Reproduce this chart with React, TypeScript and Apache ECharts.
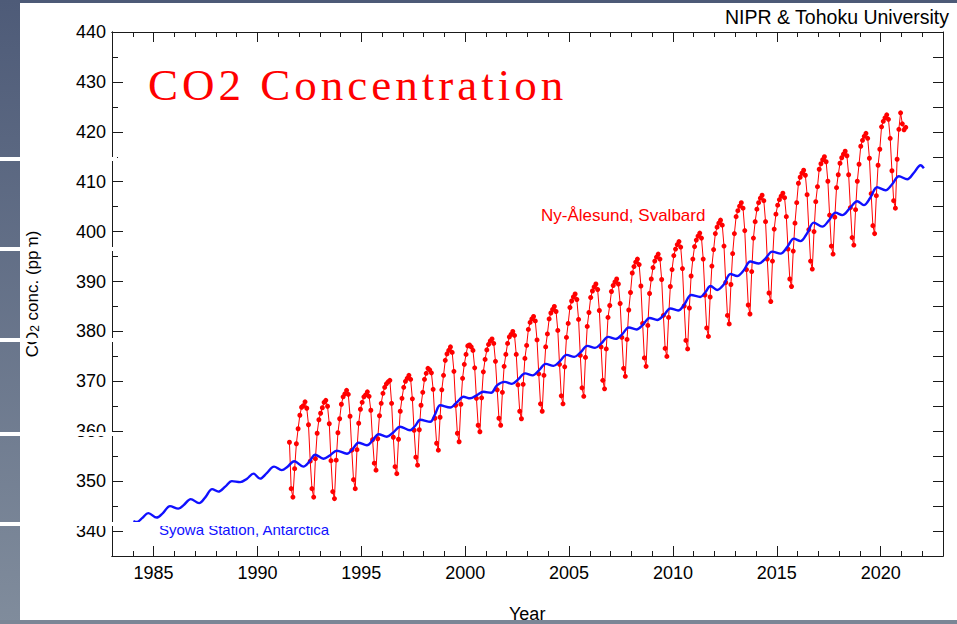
import React, { useEffect, useRef } from 'react';
import * as echarts from 'echarts';

// ---- tick labels ----
const xMajorTicks = [1985, 1990, 1995, 2000, 2005, 2010, 2015, 2020];
const yMajorTicks = [340, 350, 360, 370, 380, 390, 400, 410, 420, 430, 440];

// ---- Syowa Station, Antarctica (year, ppm) ----
const syowa: [number, number][] = [
  [1984.03, 342.0], [1984.2, 341.8], [1984.45, 342.6], [1984.75, 343.6], [1985.15, 342.7], [1985.45, 343.6],
  [1985.79, 345.0], [1986.19, 344.5], [1986.45, 345.2], [1986.79, 346.4], [1987.19, 345.6], [1987.5, 346.8],
  [1987.82, 348.4], [1988.12, 347.9], [1988.45, 348.9], [1988.77, 350.0], [1989.17, 349.8], [1989.5, 350.5],
  [1989.81, 351.5], [1990.13, 350.5], [1990.45, 351.6], [1990.8, 352.9], [1991.17, 352.2], [1991.45, 352.9],
  [1991.77, 354.0], [1992.21, 352.9], [1992.5, 353.9], [1992.78, 355.3], [1993.18, 354.5], [1993.5, 355.2],
  [1993.82, 356.1], [1994.31, 355.5], [1994.6, 356.5], [1994.86, 357.7], [1995.27, 357.2], [1995.55, 358.2],
  [1995.83, 359.4], [1996.23, 358.9], [1996.55, 359.8], [1996.87, 360.9], [1997.35, 360.2], [1997.6, 361.1],
  [1997.84, 362.3], [1998.32, 361.9], [1998.55, 363.4], [1998.8, 365.2], [1999.28, 364.75], [1999.6, 365.8],
  [1999.92, 366.9], [2000.24, 366.6], [2000.55, 367.2], [2000.88, 367.9], [2001.25, 367.7], [2001.53, 369.2],
  [2001.9, 369.9], [2002.25, 369.5], [2002.55, 370.4], [2002.88, 371.6], [2003.25, 371.2], [2003.55, 372.2],
  [2003.88, 373.5], [2004.25, 373.1], [2004.55, 374.0], [2004.88, 375.3], [2005.25, 374.9], [2005.55, 375.8],
  [2005.88, 377.1], [2006.25, 376.7], [2006.55, 377.6], [2006.88, 378.9], [2007.25, 378.5], [2007.55, 379.4],
  [2007.88, 380.8], [2008.25, 380.4], [2008.55, 381.3], [2008.88, 382.7], [2009.25, 382.3], [2009.55, 383.2],
  [2009.88, 384.6], [2010.25, 384.2], [2010.55, 385.4], [2010.88, 387.3], [2011.32, 386.9], [2011.55, 387.8],
  [2011.81, 389.1], [2012.13, 388.3], [2012.45, 389.4], [2012.77, 391.5], [2013.09, 391.1], [2013.4, 392.2],
  [2013.73, 394.0], [2014.13, 393.6], [2014.45, 394.6], [2014.78, 396.0], [2015.18, 395.6], [2015.5, 396.9],
  [2015.82, 398.6], [2016.14, 398.1], [2016.45, 399.6], [2016.78, 401.8], [2017.19, 401.0], [2017.5, 402.2],
  [2017.83, 403.8], [2018.15, 403.3], [2018.5, 404.6], [2018.87, 406.1], [2019.19, 405.3], [2019.5, 406.8],
  [2019.83, 408.9], [2020.23, 408.3], [2020.55, 409.5], [2020.88, 411.1], [2021.28, 410.5], [2021.6, 411.8],
  [2021.92, 413.3], [2022.08, 412.7],
];

// ---- Ny-Ålesund, Svalbard: monthly values (Jan..Dec), one row per year ----
const nyFirstYear = 1991;
const nyAlesundMonthly: (number | null)[][] = [
  [null, null, null, null, null, null, 357.8, 348.5, 346.8, 352.5, 357.5, 360.5], // 1991
  [363.2, 364.8, 365.1, 365.9, 364.6, 361.3, 354.0, 348.5, 346.8, 354.5, 359.6, 362.3], // 1992
  [363.6, 364.7, 365.8, 366.2, 365.0, 361.5, 354.1, 347.9, 346.5, 354.2, 359.7, 362.5], // 1993
  [365.4, 366.9, 367.5, 368.2, 367.4, 363.0, 356.2, 350.3, 348.5, 356.3, 361.6, 364.4], // 1994
  [365.8, 366.9, 367.3, 367.9, 367.0, 364.2, 358.3, 353.6, 352.2, 358.5, 363.1, 365.6], // 1995
  [367.6, 368.8, 369.5, 369.9, 370.2, 365.6, 358.8, 352.9, 351.5, 358.4, 364.0, 366.6], // 1996
  [368.8, 370.0, 370.6, 371.2, 370.4, 366.5, 360.2, 354.8, 353.2, 360.3, 365.2, 367.8], // 1997
  [370.4, 371.6, 372.6, 372.3, 371.7, 368.4, 362.6, 357.6, 356.2, 362.8, 368.3, 371.2], // 1998
  [374.2, 375.5, 376.2, 376.9, 375.8, 372.0, 365.2, 359.6, 357.9, 365.4, 370.6, 373.4], // 1999
  [375.4, 377.1, 377.3, 376.9, 376.2, 372.7, 366.6, 361.2, 359.9, 366.7, 371.9, 374.4], // 2000
  [376.3, 377.4, 378.1, 378.5, 377.6, 374.0, 368.3, 362.6, 361.2, 367.8, 373.0, 375.4], // 2001
  [377.6, 378.9, 379.4, 380.0, 379.2, 375.4, 369.3, 364.0, 362.5, 369.4, 374.6, 377.2], // 2002
  [380.4, 381.8, 382.5, 383.0, 382.1, 378.3, 371.5, 365.5, 364.0, 371.2, 376.9, 379.5], // 2003
  [382.5, 383.7, 384.4, 385.0, 384.0, 380.2, 373.4, 367.1, 365.5, 372.9, 378.8, 381.6], // 2004
  [384.8, 386.1, 386.9, 387.5, 386.4, 382.4, 375.2, 368.7, 367.0, 374.8, 381.0, 383.8], // 2005
  [386.8, 388.1, 388.9, 389.5, 388.4, 384.2, 376.9, 370.2, 368.5, 376.5, 382.8, 385.2], // 2006
  [388.0, 389.2, 389.9, 390.5, 389.5, 385.6, 378.8, 372.6, 371.0, 378.4, 384.3, 387.8], // 2007
  [391.7, 393.0, 393.9, 394.5, 393.4, 389.1, 381.6, 374.7, 373.0, 381.2, 387.6, 390.5], // 2008
  [392.8, 394.1, 394.9, 395.5, 394.5, 390.4, 383.2, 376.6, 375.0, 382.8, 389.0, 392.4], // 2009
  [395.2, 396.5, 397.4, 398.0, 396.9, 392.6, 385.1, 378.2, 376.5, 384.7, 391.1, 394.5], // 2010
  [397.0, 398.3, 399.1, 399.7, 398.7, 394.5, 387.3, 380.7, 379.0, 386.9, 393.1, 396.4], // 2011
  [399.6, 400.9, 401.7, 402.3, 401.3, 397.1, 389.8, 383.2, 381.5, 389.4, 395.6, 399.6], // 2012
  [403.0, 404.2, 405.1, 405.8, 404.7, 400.2, 392.4, 385.3, 383.5, 392.0, 398.7, 402.0], // 2013
  [404.5, 405.8, 406.7, 407.3, 406.2, 402.0, 394.5, 387.7, 386.0, 394.1, 400.5, 403.5], // 2014
  [405.3, 406.4, 407.1, 407.7, 406.8, 403.0, 396.5, 390.5, 389.0, 396.1, 401.7, 405.8], // 2015
  [409.7, 410.9, 411.7, 412.3, 411.3, 407.4, 400.4, 394.1, 392.5, 400.0, 406.0, 409.0], // 2016
  [412.5, 413.6, 414.4, 415.0, 414.0, 410.1, 403.3, 397.1, 395.5, 402.9, 408.8, 411.4], // 2017
  [413.7, 414.8, 415.5, 416.1, 415.2, 411.4, 404.8, 398.8, 397.3, 404.4, 410.1, 413.5], // 2018
  [417.1, 418.3, 419.1, 419.7, 418.7, 414.7, 407.6, 401.2, 399.6, 407.2, 413.3, 416.5], // 2019
  [421.0, 422.1, 422.8, 423.4, 422.5, 418.7, 412.2, 406.2, 404.7, 414.5, 420.5, 423.8], // 2020
  [421.6, 420.4, 420.9, null, null, null, null, null, null, null, null, null], // 2021
];

const nyAlesund: [number, number][] = [];
nyAlesundMonthly.forEach((row, i) => {
  row.forEach((v, m) => {
    if (v != null) nyAlesund.push([nyFirstYear + i + (m + 0.5) / 12, v]);
  });
});

const FONT = '"Liberation Sans", Arial, Helvetica, sans-serif';
const AX = { color: '#1a1a1a', width: 1 };
const plain = (v: number) => String(v);

export default function App() {
  const ref = useRef<HTMLDivElement>(null);

  useEffect(() => {
    if (!ref.current) return;
    const chart = echarts.init(ref.current, undefined, { renderer: 'svg' });
    const gridBox = { left: 112, top: 32, width: 831, height: 524, containLabel: false, outerBoundsMode: 'none' };
    const xBase = { type: 'value', min: 1983, max: 2023, splitLine: { show: false } };
    const yBase = { type: 'value', min: 335, max: 440, splitLine: { show: false } };

    chart.setOption({
      animation: false,
      backgroundColor: '#ffffff',
      grid: [{ ...gridBox }, { ...gridBox }],
      xAxis: [
        {
          ...xBase, gridIndex: 0, position: 'bottom', interval: 1,
          axisLine: { show: true, onZero: false, lineStyle: AX },
          axisTick: { show: true, inside: true, length: 5, lineStyle: AX },
          axisLabel: { show: true, customValues: xMajorTicks, formatter: plain, fontSize: 18, fontFamily: FONT, color: '#000', margin: 8 },
        },
        {
          ...xBase, gridIndex: 0, position: 'top', interval: 1,
          axisLine: { show: true, onZero: false, lineStyle: AX },
          axisTick: { show: true, inside: true, length: 5, lineStyle: AX },
          axisLabel: { show: false },
        },
        {
          ...xBase, gridIndex: 1, position: 'bottom',
          axisLine: { show: true, onZero: false, lineStyle: AX },
          axisTick: { show: true, inside: true, length: 10, customValues: xMajorTicks, lineStyle: AX },
          axisLabel: { show: false },
        },
        {
          ...xBase, gridIndex: 1, position: 'top',
          axisLine: { show: true, onZero: false, lineStyle: AX },
          axisTick: { show: true, inside: true, length: 10, customValues: xMajorTicks, lineStyle: AX },
          axisLabel: { show: false },
        },
      ],
      yAxis: [
        {
          ...yBase, gridIndex: 0, position: 'left', interval: 5,
          axisLine: { show: true, onZero: false, lineStyle: AX },
          axisTick: { show: true, inside: true, length: 6, lineStyle: AX },
          axisLabel: { show: true, customValues: yMajorTicks, formatter: plain, fontSize: 18, fontFamily: FONT, color: '#000', margin: 6 },
          name: '{a|CO}{b|2}{a| conc. (ppm)}',
          nameLocation: 'middle',
          nameRotate: 90,
          nameGap: 71,
          nameTextStyle: {
            fontSize: 17, fontFamily: FONT, color: '#000',
            rich: {
              a: { fontSize: 17, fontFamily: FONT, color: '#000', lineHeight: 17 },
              b: { fontSize: 12, fontFamily: FONT, color: '#000', lineHeight: 12, verticalAlign: 'bottom' },
            },
          },
        },
        {
          ...yBase, gridIndex: 0, position: 'right', interval: 5,
          axisLine: { show: true, onZero: false, lineStyle: AX },
          axisTick: { show: true, inside: true, length: 10, lineStyle: AX },
          axisLabel: { show: false },
        },
        {
          ...yBase, gridIndex: 1, position: 'left',
          axisLine: { show: true, onZero: false, lineStyle: AX },
          axisTick: { show: true, inside: true, length: 11, customValues: yMajorTicks, lineStyle: AX },
          axisLabel: { show: false },
        },
      ],
      series: [
        {
          name: 'Ny-Ålesund, Svalbard',
          type: 'line',
          xAxisIndex: 0,
          yAxisIndex: 0,
          data: nyAlesund,
          symbol: 'circle',
          symbolSize: 5,
          showSymbol: true,
          itemStyle: { color: '#ff0000' },
          lineStyle: { color: '#ff0000', width: 1 },
          z: 2,
        },
        {
          name: 'Syowa Station, Antarctica',
          type: 'line',
          xAxisIndex: 0,
          yAxisIndex: 0,
          data: syowa,
          symbol: 'none',
          smooth: 0.35,
          lineStyle: { color: '#1010ff', width: 2.4 },
          z: 3,
        },
      ],
      graphic: [
        { type: 'rect', silent: true, z: 100, shape: { x: 0, y: 0, width: 957, height: 3 }, style: { fill: '#4d5a77' } },
        {
          type: 'rect', silent: true, z: 100, shape: { x: 0, y: 0, width: 20, height: 624 },
          style: {
            fill: new echarts.graphic.LinearGradient(0, 0, 0, 1, [
              { offset: 0, color: '#4e5b78' },
              { offset: 1, color: '#808c9c' },
            ]),
          },
        },
        { type: 'rect', silent: true, z: 100, shape: { x: 0, y: 620, width: 957, height: 4 }, style: { fill: '#7b8696' } },
        { type: 'rect', silent: true, z: 101, shape: { x: 0, y: 157, width: 117, height: 4 }, style: { fill: '#ffffff' } },
        { type: 'rect', silent: true, z: 101, shape: { x: 0, y: 247, width: 117, height: 4 }, style: { fill: '#ffffff' } },
        { type: 'rect', silent: true, z: 101, shape: { x: 0, y: 338, width: 117, height: 4 }, style: { fill: '#ffffff' } },
        { type: 'rect', silent: true, z: 101, shape: { x: 0, y: 432, width: 117, height: 4 }, style: { fill: '#ffffff' } },
        { type: 'rect', silent: true, z: 101, shape: { x: 0, y: 522, width: 340, height: 4 }, style: { fill: '#ffffff' } },
        {
          type: 'text', silent: true, z: 102, x: 148, y: 85,
          style: { text: 'CO2 Concentration', fill: '#ff0000', fontSize: 45, fontFamily: '"Liberation Serif", "Times New Roman", serif', align: 'left', verticalAlign: 'middle' },
        },
        {
          type: 'text', silent: true, z: 102, x: 949, y: 17,
          style: { text: 'NIPR & Tohoku University', fill: '#000', fontSize: 19.5, fontFamily: FONT, align: 'right', verticalAlign: 'middle' },
        },
        {
          type: 'text', silent: true, z: 102, x: 541, y: 215.5,
          style: { text: 'Ny-Ålesund, Svalbard', fill: '#ff0000', fontSize: 17, fontFamily: FONT, align: 'left', verticalAlign: 'middle' },
        },
        {
          type: 'text', silent: true, z: 99, x: 159, y: 529.5,
          style: { text: 'Syowa Station, Antarctica', fill: '#1010ff', fontSize: 15, fontFamily: FONT, align: 'left', verticalAlign: 'middle' },
        },
        {
          type: 'text', silent: true, z: 99, x: 509, y: 613.8,
          style: { text: 'Year', fill: '#000', fontSize: 18, fontFamily: FONT, align: 'left', verticalAlign: 'middle' },
        },
      ],
    });

    return () => chart.dispose();
  }, []);

  return (
    <>
      <style>{'text[style*="Liberation Serif"]{letter-spacing:4px;}'}</style>
      <div
        ref={ref}
        style={{ position: 'fixed', left: 0, top: 0, width: 957, height: 624, background: '#ffffff' }}
      />
    </>
  );
}
